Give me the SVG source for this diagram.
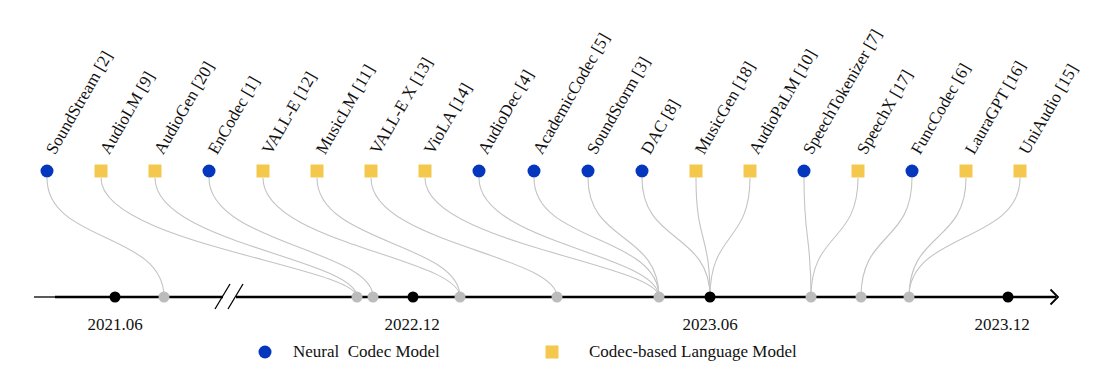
<svg xmlns="http://www.w3.org/2000/svg" width="1096" height="370" viewBox="0 0 1096 370">
<style>
.lbl{font-family:"Liberation Serif","Times New Roman",serif;font-size:17px;fill:#111}
.nc{fill:#0436be}
.lm{fill:#f4c84c}
.con path{fill:none;stroke:#c4c4c4;stroke-width:1.1}
.gd{fill:#bcbcbc}
.bd{fill:#000}
.ax{stroke:#000;fill:none}
</style>
<rect width="1096" height="370" fill="#fff"/>
<g id="connectors" class="con">
<path d="M47,178 C47,243 164,232 164,297"/>
<path d="M101,178 C101,243 357,267 357,297"/>
<path d="M155,178 C155,243 357,259 357,297"/>
<path d="M209,178 C209,243 373,250 373,297"/>
<path d="M263,178 C263,243 460,258 460,297"/>
<path d="M317,178 C317,243 460,243 460,297"/>
<path d="M371,178 C371,243 557,255 557,297"/>
<path d="M425,178 C425,243 659,264 659,297"/>
<path d="M479,178 C479,243 659,254 659,297"/>
<path d="M534,178 C534,243 659,235 659,297"/>
<path d="M588,178 C588,243 659,232 659,297"/>
<path d="M642,178 C642,243 710,232 710,297"/>
<path d="M696,178 C696,243 710,232 710,297"/>
<path d="M750,178 C750,243 710,232 710,297"/>
<path d="M804,178 C804,243 811,232 811,297"/>
<path d="M858,178 C858,243 811,232 811,297"/>
<path d="M912,178 C912,243 861,232 861,297"/>
<path d="M966,178 C966,243 909,232 909,297"/>
<path d="M1020,178 C1020,243 909,232 909,297"/>
</g>
<g id="axis">
<line class="ax" x1="34" y1="297" x2="56" y2="297" stroke-width="1.3"/>
<line class="ax" x1="55" y1="297" x2="223" y2="297" stroke-width="2.3"/>
<line class="ax" x1="236" y1="297" x2="1056" y2="297" stroke-width="2.3"/>
<line class="ax" x1="215" y1="309" x2="230" y2="284" stroke-width="1.3"/>
<line class="ax" x1="228" y1="309" x2="243" y2="284" stroke-width="1.3"/>
<polyline class="ax" points="1050.5,289.5 1058,297 1050.5,304.5" stroke-width="1.8"/>
</g>
<g id="ticks">
<circle class="bd" cx="115" cy="297" r="5.5"/>
<circle class="bd" cx="413" cy="297" r="5.5"/>
<circle class="bd" cx="710" cy="297" r="5.5"/>
<circle class="bd" cx="1008" cy="297" r="5.5"/>
<circle class="gd" cx="164" cy="297" r="5.5"/>
<circle class="gd" cx="357" cy="297" r="5.5"/>
<circle class="gd" cx="373" cy="297" r="5.5"/>
<circle class="gd" cx="460" cy="297" r="5.5"/>
<circle class="gd" cx="557" cy="297" r="5.5"/>
<circle class="gd" cx="659" cy="297" r="5.5"/>
<circle class="gd" cx="811" cy="297" r="5.5"/>
<circle class="gd" cx="861" cy="297" r="5.5"/>
<circle class="gd" cx="909" cy="297" r="5.5"/>
</g>
<g id="dates" class="lbl" text-anchor="middle">
<text x="115" y="330">2021.06</text>
<text x="412" y="330">2022.12</text>
<text x="710" y="330">2023.06</text>
<text x="1002" y="330">2023.12</text>
</g>
<g id="n-soundstream"><circle class="nc" cx="47" cy="171" r="6.5"/><text class="lbl" transform="translate(55,155.5) rotate(-60)">SoundStream [2]</text></g>
<g id="n-audiolm"><rect class="lm" x="94.5" y="164.5" width="13" height="13"/><text class="lbl" transform="translate(109,155.5) rotate(-60)">AudioLM [9]</text></g>
<g id="n-audiogen"><rect class="lm" x="148.5" y="164.5" width="13" height="13"/><text class="lbl" transform="translate(163,155.5) rotate(-60)">AudioGen [20]</text></g>
<g id="n-encodec"><circle class="nc" cx="209" cy="171" r="6.5"/><text class="lbl" transform="translate(217,155.5) rotate(-60)">EnCodec [1]</text></g>
<g id="n-valle"><rect class="lm" x="256.5" y="164.5" width="13" height="13"/><text class="lbl" transform="translate(271,155.5) rotate(-60)">VALL-E [12]</text></g>
<g id="n-musiclm"><rect class="lm" x="310.5" y="164.5" width="13" height="13"/><text class="lbl" transform="translate(325,155.5) rotate(-60)">MusicLM [11]</text></g>
<g id="n-vallex"><rect class="lm" x="364.5" y="164.5" width="13" height="13"/><text class="lbl" transform="translate(379,155.5) rotate(-60)">VALL-E X [13]</text></g>
<g id="n-viola"><rect class="lm" x="418.5" y="164.5" width="13" height="13"/><text class="lbl" transform="translate(433,155.5) rotate(-60)">VioLA [14]</text></g>
<g id="n-audiodec"><circle class="nc" cx="479" cy="171" r="6.5"/><text class="lbl" transform="translate(487,155.5) rotate(-60)">AudioDec [4]</text></g>
<g id="n-academiccodec"><circle class="nc" cx="534" cy="171" r="6.5"/><text class="lbl" transform="translate(542,155.5) rotate(-60)">AcademicCodec [5]</text></g>
<g id="n-soundstorm"><circle class="nc" cx="588" cy="171" r="6.5"/><text class="lbl" transform="translate(596,155.5) rotate(-60)">SoundStorm [3]</text></g>
<g id="n-dac"><circle class="nc" cx="642" cy="171" r="6.5"/><text class="lbl" transform="translate(650,155.5) rotate(-60)">DAC [8]</text></g>
<g id="n-musicgen"><rect class="lm" x="689.5" y="164.5" width="13" height="13"/><text class="lbl" transform="translate(704,155.5) rotate(-60)">MusicGen [18]</text></g>
<g id="n-audiopalm"><rect class="lm" x="743.5" y="164.5" width="13" height="13"/><text class="lbl" transform="translate(758,155.5) rotate(-60)">AudioPaLM [10]</text></g>
<g id="n-speechtokenizer"><circle class="nc" cx="804" cy="171" r="6.5"/><text class="lbl" transform="translate(812,155.5) rotate(-60)">SpeechTokenizer [7]</text></g>
<g id="n-speechx"><rect class="lm" x="851.5" y="164.5" width="13" height="13"/><text class="lbl" transform="translate(866,155.5) rotate(-60)">SpeechX [17]</text></g>
<g id="n-funccodec"><circle class="nc" cx="912" cy="171" r="6.5"/><text class="lbl" transform="translate(920,155.5) rotate(-60)">FuncCodec [6]</text></g>
<g id="n-lauragpt"><rect class="lm" x="959.5" y="164.5" width="13" height="13"/><text class="lbl" transform="translate(974,155.5) rotate(-60)">LauraGPT [16]</text></g>
<g id="n-uniaudio"><rect class="lm" x="1013.5" y="164.5" width="13" height="13"/><text class="lbl" transform="translate(1028,155.5) rotate(-60)">UniAudio [15]</text></g>
<g id="legend">
<circle class="nc" cx="265" cy="352" r="6.5"/>
<text class="lbl" x="293" y="357" xml:space="preserve">Neural  Codec Model</text>
<rect class="lm" x="545.5" y="345.5" width="13" height="13"/>
<text class="lbl" x="589" y="357">Codec-based Language Model</text>
</g>
</svg>
